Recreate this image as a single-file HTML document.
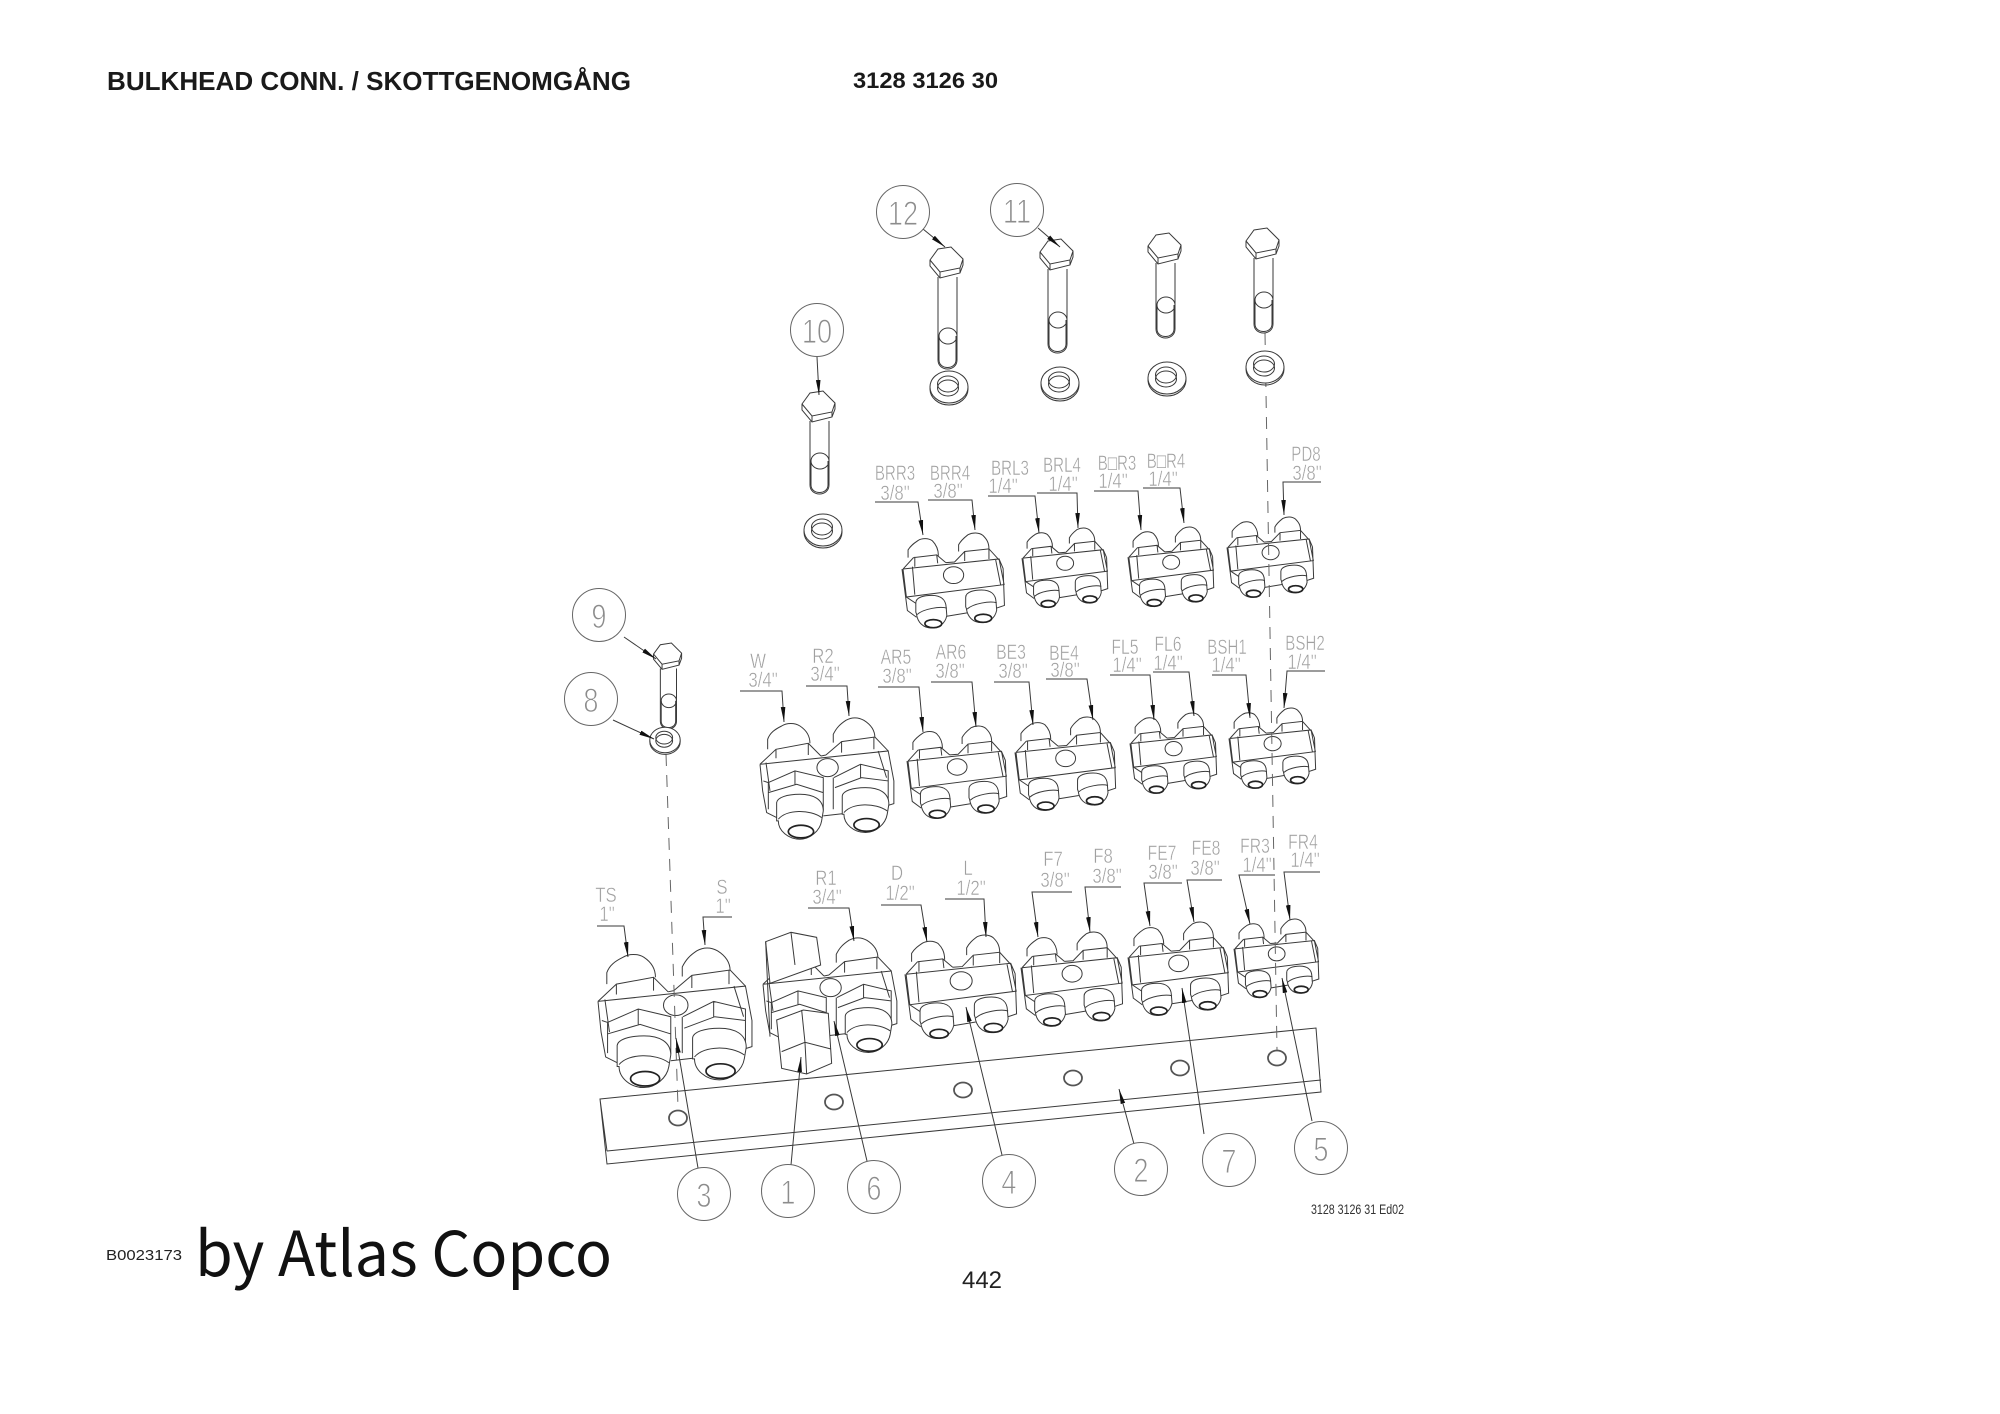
<!DOCTYPE html>
<html><head><meta charset="utf-8"><title>Bulkhead conn.</title>
<style>
html,body{margin:0;padding:0;background:#fff}
svg{display:block}
.l{fill:none;stroke:#3a3a3a;stroke-width:1;vector-effect:non-scaling-stroke}
.l *{vector-effect:non-scaling-stroke}
.w{fill:#fff}
.t{fill:none;stroke:#222;stroke-width:1.7;vector-effect:non-scaling-stroke}
.lab text{font:21px "Liberation Sans",sans-serif;fill:#a0a0a0;stroke:#fff;stroke-width:.45;text-anchor:middle}
.lab tspan{stroke:none}
.bal text{font:34px "Liberation Sans",sans-serif;fill:#8c8c8c;stroke:#fff;stroke-width:1;text-anchor:middle}
.ld{fill:none;stroke:#3a3a3a;stroke-width:1;marker-end:url(#a)}
.bc{fill:#fff;stroke:#666;stroke-width:1}
</style></head><body>
<svg width="2000" height="1414" viewBox="0 0 2000 1414" xmlns="http://www.w3.org/2000/svg">
<defs>
<marker id="a" markerUnits="userSpaceOnUse" markerWidth="16" markerHeight="6" refX="15" refY="3" orient="auto"><path d="M0,.7L15,3L0,5.3Z" fill="#111"/></marker>
<g id="sf"><path class="l w" d="M103,480V452C103,435 130,430 150,430C180,430 192,445 193,465L195,490C190,515 170,527 150,527C125,527 108,510 105,485Z"/><path class="l" d="M107,487C125,470 175,462 195,468"/><ellipse class="t w" cx="155" cy="514" rx="25" ry="12"/></g>
<g id="s"><g transform="translate(-62,-245)">
<path class="l" d="M80,318V295C88,282 98,275 110,267C122,260 140,260 152,268C162,278 170,290 170,312M96,318L165,310L192,333M100,316V345M165,310L168,335M192,333L218,331L248,300L320,292L350,325M230,300V280C238,265 248,258 258,250C272,243 290,243 302,252C312,262 320,272 320,292M248,300V328M320,292V322M65,352L96,318M65,352L350,322L362,350M65,352L75,435L365,398L350,322M62,352L78,475L105,495M93,345L100,428M340,325L355,400M362,350L366,460L330,472M195,492L255,482M75,435L105,455"/>
<ellipse class="l w" cx="215" cy="370" rx="30" ry="25"/>
<use href="#sf"/><use href="#sf" transform="translate(148,-16)"/>
</g></g>
<g id="bf"><path class="l w" d="M110,600V545C112,530 140,520 180,520C220,520 250,535 250,570L245,600C240,630 210,655 180,655C145,655 115,630 115,600Z"/><path class="l" d="M115,595C140,565 210,565 245,590"/><ellipse class="t w" cx="183" cy="632" rx="38" ry="19"/></g>
<g id="b"><g transform="translate(-60,-288)">
<path class="l" d="M83,385V355C90,335 105,325 125,315C140,305 165,305 180,315C195,325 210,340 210,367M60,430L108,385L205,367L243,405M108,385V412M205,367V402M280,365V340C290,320 300,310 318,298C335,288 355,288 372,298C388,308 405,325 405,350M258,402L305,362L405,348L445,390M305,362V395M402,348V385M243,405L258,402M60,430L445,390L462,480V548L440,555M60,430L68,510L80,575L110,590M78,425L90,510M415,390L440,470M250,585L310,578"/>
<path class="l" d="M85,485L165,450L250,470V568M85,485V565M85,515L170,490L250,515M70,480L85,485M282,470L362,430L445,450V550M285,500L365,470L445,480M280,470V565M165,450V490M362,430V470"/>
<ellipse class="l w" cx="263" cy="440" rx="32" ry="27"/>
<use href="#bf"/><use href="#bf" transform="translate(197,-20)"/>
</g></g>
<path id="hd" class="l w" d="M-17,13L-9,2L4,0L16,12V18L13,26L-7,31L-17,19Z"/>
<path id="hi" class="l" d="M-17,13L-7,25L13,21L16,12M-7,25V31M13,21V26"/>
<g id="wa"><ellipse class="l" cx="0" cy="2" rx="19" ry="16"/><ellipse class="l w" cx="0" cy="0" rx="19" ry="16"/><ellipse class="l" cx="-1" cy="-3" rx="10.5" ry="8"/><ellipse class="l" cx="-1" cy="1" rx="10.5" ry="8"/></g>
</defs>
<rect width="2000" height="1414" fill="#fff"/>

<text x="107" y="90" font-family="Liberation Sans,sans-serif" font-weight="700" font-size="26" fill="#1a1a1a" textLength="524" lengthAdjust="spacingAndGlyphs">BULKHEAD CONN. / SKOTTGENOMGÅNG</text>
<text x="853" y="88" font-family="Liberation Sans,sans-serif" font-weight="700" font-size="22" fill="#1a1a1a" textLength="145" lengthAdjust="spacingAndGlyphs">3128 3126 30</text>
<text x="106" y="1260" font-family="Liberation Sans,sans-serif" font-size="15" fill="#222" textLength="76" lengthAdjust="spacingAndGlyphs">B0023173</text>
<text x="195" y="1276" font-family="Noto Sans CJK SC,Liberation Sans,sans-serif" font-size="62" fill="#111" textLength="417" lengthAdjust="spacingAndGlyphs">by Atlas Copco</text>
<text x="962" y="1288" font-family="Liberation Sans,sans-serif" font-size="24" fill="#222" textLength="40" lengthAdjust="spacingAndGlyphs">442</text>
<text x="1311" y="1214" font-family="Liberation Sans,sans-serif" font-size="14" fill="#333" textLength="93" lengthAdjust="spacingAndGlyphs">3128 3126 31 Ed02</text>

<!-- plate -->
<path class="l" d="M600,1099L1316,1028L1321,1092L607,1164ZM607,1151L1321,1080M600,1099L607,1151"/>
<g fill="none" stroke="#555" stroke-width="1.8">
<ellipse cx="678" cy="1118" rx="9" ry="7.5"/><ellipse cx="834" cy="1102" rx="9" ry="7.5"/><ellipse cx="963" cy="1090" rx="9" ry="7.5"/><ellipse cx="1073" cy="1078" rx="9" ry="7.5"/><ellipse cx="1180" cy="1068" rx="9" ry="7.5"/><ellipse cx="1277" cy="1058" rx="9" ry="7.5"/>
</g>

<!-- connectors -->
<use href="#s" transform="translate(902,533) scale(.337)"/>
<use href="#s" transform="translate(1022,528) scale(.282)"/>
<use href="#s" transform="translate(1128,527) scale(.282)"/>
<use href="#s" transform="translate(1227,517) scale(.285)"/>
<use href="#b" transform="translate(760,717) scale(.333)"/>
<use href="#s" transform="translate(907,726) scale(.328)"/>
<use href="#s" transform="translate(1015,717) scale(.331)"/>
<use href="#s" transform="translate(1130,713) scale(.285)"/>
<use href="#s" transform="translate(1229,708) scale(.285)"/>
<use href="#b" transform="translate(598,947) scale(.383)"/>
<use href="#b" transform="translate(763,937) scale(.333)"/>
<use href="#s" transform="translate(905,935) scale(.367)"/>
<use href="#s" transform="translate(1021,932) scale(.334)"/>
<use href="#s" transform="translate(1128,922) scale(.331)"/>
<use href="#s" transform="translate(1234,919) scale(.279)"/>
<!-- R1 hex plug -->
<g transform="translate(550,850) scale(.3333)">
<path class="l w" d="M647,275L723,247L800,262L812,345L660,400Z"/>
<path class="l" d="M723,247L735,345M647,275L660,560"/>
<path class="l w" d="M680,510L760,480L835,490L845,640L770,672L695,655Z"/>
<path class="l" d="M695,605L765,577L843,597M755,480L765,577L770,672"/>
</g>

<!-- dashed -->
<g fill="none" stroke="#666" stroke-width="1" stroke-dasharray="12 9">
<path d="M666,754L678,1107"/><path d="M1265,333L1277,1050"/>
</g>

<!-- bolts -->
<g transform="translate(947,247)"><path class="l" d="M-9,30V113c0,12 19,12 19,0V30"/><ellipse class="l" cx="1" cy="89" rx="9" ry="8"/><path class="l" d="M-8,89V113c0,10 17,10 17,0V89"/><use href="#hd"/><use href="#hi"/></g>
<g transform="translate(1057,239)"><path class="l" d="M-9,30V105c0,12 19,12 19,0V30"/><ellipse class="l" cx="1" cy="81" rx="9" ry="8"/><path class="l" d="M-8,81V105c0,10 17,10 17,0V81"/><use href="#hd"/><use href="#hi"/></g>
<g transform="translate(1165,233)"><path class="l" d="M-9,30V96c0,12 19,12 19,0V30"/><ellipse class="l" cx="1" cy="72" rx="9" ry="8"/><path class="l" d="M-8,72V96c0,10 17,10 17,0V72"/><use href="#hd"/><use href="#hi"/></g>
<g transform="translate(1263,228)"><path class="l" d="M-9,30V96c0,12 19,12 19,0V30"/><ellipse class="l" cx="1" cy="72" rx="9" ry="8"/><path class="l" d="M-8,72V96c0,10 17,10 17,0V72"/><use href="#hd"/><use href="#hi"/></g>
<g transform="translate(819,391)"><path class="l" d="M-9,30V94c0,12 19,12 19,0V30"/><ellipse class="l" cx="1" cy="70" rx="9" ry="8"/><path class="l" d="M-8,70V94c0,10 17,10 17,0V70"/><use href="#hd"/><use href="#hi"/></g>
<g transform="translate(668,643) scale(.85)"><path class="l" d="M-9,30V92c0,12 19,12 19,0V30"/><ellipse class="l" cx="1" cy="68" rx="9" ry="8"/><path class="l" d="M-8,68V92c0,10 17,10 17,0V68"/><use href="#hd"/><use href="#hi"/></g>

<use href="#wa" transform="translate(949,387)"/>
<use href="#wa" transform="translate(1060,383)"/>
<use href="#wa" transform="translate(1167,378)"/>
<use href="#wa" transform="translate(1265,367)"/>
<use href="#wa" transform="translate(823,530)"/>
<use href="#wa" transform="translate(665,740) scale(.8)"/>

<!-- label leaders -->
<g>
<path class="ld" d="M875,502H918L923,535"/><path class="ld" d="M928,500H972L975,530"/>
<path class="ld" d="M988,496H1035L1039,533"/><path class="ld" d="M1037,493H1077L1078,528"/>
<path class="ld" d="M1094,491H1138L1141,530"/><path class="ld" d="M1143,488H1180L1184,523"/>
<path class="ld" d="M1321,482H1283L1284,515"/>
<path class="ld" d="M740,691H782L784,722"/><path class="ld" d="M806,686H847L849,716"/>
<path class="ld" d="M878,687H919L923,732"/><path class="ld" d="M931,682H972L976,727"/>
<path class="ld" d="M994,682H1029L1033,725"/><path class="ld" d="M1046,679H1087L1093,720"/>
<path class="ld" d="M1110,675H1150L1154,720"/><path class="ld" d="M1153,672H1189L1194,716"/>
<path class="ld" d="M1212,675H1246L1250,718"/><path class="ld" d="M1325,671H1287L1284,708"/>
<path class="ld" d="M597,926H624L628,957"/><path class="ld" d="M732,917H703L705,945"/>
<path class="ld" d="M808,908H849L854,941"/><path class="ld" d="M881,905H921L927,942"/>
<path class="ld" d="M945,899H984L986,937"/><path class="ld" d="M1072,892H1032L1038,937"/>
<path class="ld" d="M1121,887H1085L1090,932"/><path class="ld" d="M1182,883H1144L1150,926"/>
<path class="ld" d="M1222,880H1187L1194,922"/><path class="ld" d="M1275,875H1239L1250,924"/>
<path class="ld" d="M1320,872H1284L1290,920"/>
<!-- balloon leaders -->
<path class="ld" d="M698,1168L676,1038"/><path class="ld" d="M791,1165L801,1057"/>
<path class="ld" d="M867,1161L834,1021"/><path class="ld" d="M1002,1155L966,1007"/>
<path class="ld" d="M1204,1134L1182,988"/><path class="ld" d="M1312,1121L1282,978"/>
<path class="ld" d="M1134,1144L1119,1089"/><path class="ld" d="M923,229L945,247"/>
<path class="ld" d="M1038,228L1060,247"/><path class="ld" d="M817,357L819,395"/>
<path class="ld" d="M624,637L656,659"/><path class="ld" d="M613,720L654,739"/>
</g>

<!-- labels -->
<g class="lab">
<text transform="translate(895,480) scale(.72,1)">BRR3</text><text transform="translate(895,500) scale(.8,1)">3/8"</text>
<text transform="translate(950,480) scale(.72,1)">BRR4</text><text transform="translate(948,498) scale(.8,1)">3/8"</text>
<text transform="translate(1010,475) scale(.72,1)">BRL3</text><text transform="translate(1003,493) scale(.8,1)">1/4"</text>
<text transform="translate(1062,472) scale(.72,1)">BRL4</text><text transform="translate(1063,491) scale(.8,1)">1/4"</text>
<text transform="translate(1117,470) scale(.72,1)">B<tspan>□</tspan>R3</text><text transform="translate(1113,488) scale(.8,1)">1/4"</text>
<text transform="translate(1166,468) scale(.72,1)">B<tspan>□</tspan>R4</text><text transform="translate(1163,486) scale(.8,1)">1/4"</text>
<text transform="translate(1306,461) scale(.72,1)">PD8</text><text transform="translate(1307,480) scale(.8,1)">3/8"</text>
<text transform="translate(758,668) scale(.8,1)">W</text><text transform="translate(763,687) scale(.8,1)">3/4"</text>
<text transform="translate(823,663) scale(.8,1)">R2</text><text transform="translate(825,681) scale(.8,1)">3/4"</text>
<text transform="translate(896,664) scale(.75,1)">AR5</text><text transform="translate(897,683) scale(.8,1)">3/8"</text>
<text transform="translate(951,659) scale(.75,1)">AR6</text><text transform="translate(950,678) scale(.8,1)">3/8"</text>
<text transform="translate(1011,659) scale(.75,1)">BE3</text><text transform="translate(1013,678) scale(.8,1)">3/8"</text>
<text transform="translate(1064,660) scale(.75,1)">BE4</text><text transform="translate(1065,677) scale(.8,1)">3/8"</text>
<text transform="translate(1125,654) scale(.75,1)">FL5</text><text transform="translate(1127,672) scale(.8,1)">1/4"</text>
<text transform="translate(1168,651) scale(.75,1)">FL6</text><text transform="translate(1168,670) scale(.8,1)">1/4"</text>
<text transform="translate(1227,654) scale(.72,1)">BSH1</text><text transform="translate(1226,672) scale(.8,1)">1/4"</text>
<text transform="translate(1305,650) scale(.72,1)">BSH2</text><text transform="translate(1302,669) scale(.8,1)">1/4"</text>
<text transform="translate(606,902) scale(.8,1)">TS</text><text transform="translate(607,921) scale(.8,1)">1"</text>
<text transform="translate(722,894) scale(.8,1)">S</text><text transform="translate(723,913) scale(.8,1)">1"</text>
<text transform="translate(826,885) scale(.8,1)">R1</text><text transform="translate(827,904) scale(.8,1)">3/4"</text>
<text transform="translate(897,880) scale(.8,1)">D</text><text transform="translate(900,900) scale(.8,1)">1/2"</text>
<text transform="translate(968,875) scale(.8,1)">L</text><text transform="translate(971,895) scale(.8,1)">1/2"</text>
<text transform="translate(1053,866) scale(.8,1)">F7</text><text transform="translate(1055,887) scale(.8,1)">3/8"</text>
<text transform="translate(1103,863) scale(.8,1)">F8</text><text transform="translate(1107,883) scale(.8,1)">3/8"</text>
<text transform="translate(1162,860) scale(.75,1)">FE7</text><text transform="translate(1163,879) scale(.8,1)">3/8"</text>
<text transform="translate(1206,855) scale(.75,1)">FE8</text><text transform="translate(1205,875) scale(.8,1)">3/8"</text>
<text transform="translate(1255,853) scale(.75,1)">FR3</text><text transform="translate(1257,872) scale(.8,1)">1/4"</text>
<text transform="translate(1303,849) scale(.75,1)">FR4</text><text transform="translate(1305,867) scale(.8,1)">1/4"</text>
</g>

<!-- balloons -->
<g class="bal">
<circle class="bc" cx="704" cy="1194" r="26.5"/><text transform="translate(704,1207) scale(.8,1)">3</text>
<circle class="bc" cx="788" cy="1191" r="26.5"/><text transform="translate(788,1204) scale(.8,1)">1</text>
<circle class="bc" cx="874" cy="1187" r="26.5"/><text transform="translate(874,1200) scale(.8,1)">6</text>
<circle class="bc" cx="1009" cy="1181" r="26.5"/><text transform="translate(1009,1194) scale(.8,1)">4</text>
<circle class="bc" cx="1141" cy="1169" r="26.5"/><text transform="translate(1141,1182) scale(.8,1)">2</text>
<circle class="bc" cx="1229" cy="1160" r="26.5"/><text transform="translate(1229,1173) scale(.8,1)">7</text>
<circle class="bc" cx="1321" cy="1148" r="26.5"/><text transform="translate(1321,1161) scale(.8,1)">5</text>
<circle class="bc" cx="903" cy="212" r="26.5"/><text transform="translate(903,225) scale(.8,1)">12</text>
<circle class="bc" cx="1017" cy="210" r="26.5"/><text transform="translate(1017,223) scale(.8,1)">11</text>
<circle class="bc" cx="817" cy="330" r="26.5"/><text transform="translate(817,343) scale(.8,1)">10</text>
<circle class="bc" cx="599" cy="615" r="26.5"/><text transform="translate(599,628) scale(.8,1)">9</text>
<circle class="bc" cx="591" cy="699" r="26.5"/><text transform="translate(591,712) scale(.8,1)">8</text>
</g>
</svg>
</body></html>
